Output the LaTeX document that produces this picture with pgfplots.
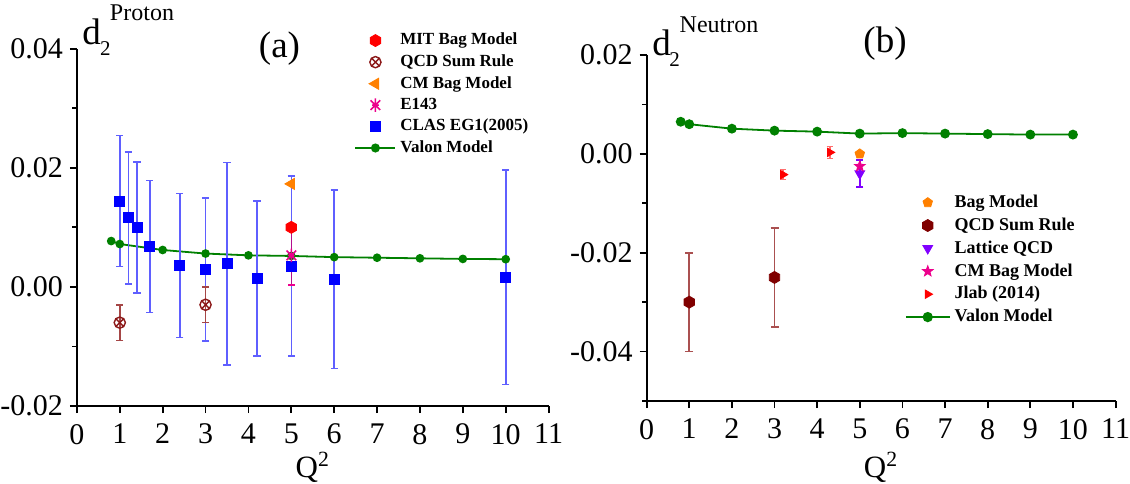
\documentclass[border=0pt]{standalone}
\usepackage{fontspec}
\setmainfont{Liberation Serif}
\usepackage{pgfplots}
\pgfplotsset{compat=1.18}
\usetikzlibrary{plotmarks}

\definecolor{vgreen}{RGB}{0,128,0}
\definecolor{clasbar}{RGB}{95,95,255}
\definecolor{qcdp}{RGB}{140,25,25}
\definecolor{qcdpbar}{RGB}{165,70,70}
\definecolor{cmorange}{RGB}{255,128,0}
\definecolor{maroonq}{RGB}{128,0,0}
\definecolor{maroonbar}{RGB}{170,80,80}
\definecolor{lattice}{RGB}{128,0,255}
\definecolor{jlabbar}{RGB}{255,110,110}

\pgfdeclareplotmark{hexagon*}{%
  \pgfpathmoveto{\pgfqpointpolar{90}{\pgfplotmarksize}}%
  \pgfpathlineto{\pgfqpointpolar{150}{\pgfplotmarksize}}%
  \pgfpathlineto{\pgfqpointpolar{210}{\pgfplotmarksize}}%
  \pgfpathlineto{\pgfqpointpolar{270}{\pgfplotmarksize}}%
  \pgfpathlineto{\pgfqpointpolar{330}{\pgfplotmarksize}}%
  \pgfpathlineto{\pgfqpointpolar{30}{\pgfplotmarksize}}%
  \pgfpathclose\pgfusepathqfillstroke}
\pgfdeclareplotmark{fstar}{%
  \pgfpathmoveto{\pgfqpointpolar{90}{\pgfplotmarksize}}%
  \pgfpathlineto{\pgfqpointpolar{126}{0.42\pgfplotmarksize}}%
  \pgfpathlineto{\pgfqpointpolar{162}{\pgfplotmarksize}}%
  \pgfpathlineto{\pgfqpointpolar{198}{0.42\pgfplotmarksize}}%
  \pgfpathlineto{\pgfqpointpolar{234}{\pgfplotmarksize}}%
  \pgfpathlineto{\pgfqpointpolar{270}{0.42\pgfplotmarksize}}%
  \pgfpathlineto{\pgfqpointpolar{306}{\pgfplotmarksize}}%
  \pgfpathlineto{\pgfqpointpolar{342}{0.42\pgfplotmarksize}}%
  \pgfpathlineto{\pgfqpointpolar{18}{\pgfplotmarksize}}%
  \pgfpathlineto{\pgfqpointpolar{54}{0.42\pgfplotmarksize}}%
  \pgfpathclose\pgfusepathqfillstroke}
\pgfdeclareplotmark{xstar}{%
  \pgfpathmoveto{\pgfqpointpolar{45}{\pgfplotmarksize}}\pgfpathlineto{\pgfqpointpolar{225}{\pgfplotmarksize}}%
  \pgfpathmoveto{\pgfqpointpolar{135}{\pgfplotmarksize}}\pgfpathlineto{\pgfqpointpolar{315}{\pgfplotmarksize}}%
  \pgfpathmoveto{\pgfqpointpolar{90}{\pgfplotmarksize}}\pgfpathlineto{\pgfqpointpolar{270}{\pgfplotmarksize}}%
  \pgfpathmoveto{\pgfqpointpolar{0}{0.5\pgfplotmarksize}}\pgfpathlineto{\pgfqpointpolar{180}{0.5\pgfplotmarksize}}%
  \pgfusepathqstroke}

\pgfplotsset{
  myax/.style={
    scale only axis,
    axis x line*=bottom, axis y line*=left,
    axis line style={line width=0.9pt, black},
    every tick/.style={black, line width=0.9pt},
    tick align=outside,
    major tick length=3.5pt, minor tick length=2.3pt,
    xmin=0, xmax=11, xtick={0,1,...,11},
    scaled y ticks=false,
    /pgf/number format/assume math mode=true,
    ticklabel style={font=\rmfamily\fontsize{15}{16}\selectfont},
    xticklabel style={yshift=-2pt},
    yticklabel style={/pgf/number format/.cd, fixed, fixed zerofill, precision=2},
    xlabel={Q\textsuperscript{2}},
    legend image code/.code={\draw[mark repeat=2,mark phase=2] plot coordinates {(0pt,0pt) (10pt,0pt) (20pt,0pt)};},
    legend cell align=left,
  }
}

\begin{document}
\begin{tikzpicture}
\useasboundingbox (0,0) rectangle (565pt,241.5pt);

% ---------------- (a) Proton ----------------
\begin{axis}[myax,
  at={(38.45pt,38.5pt)}, anchor=south west,
  width=235.85pt, height=178.65pt,
  ymin=-0.02, ymax=0.04,
  ytick={-0.02,0,0.02,0.04}, minor ytick={-0.01,0.01,0.03},
  xlabel style={at={(axis description cs:0.5,0)}, anchor=base, yshift=-35.5pt, font=\fontsize{15.5}{16}\selectfont},
  legend style={at={(0.575,1.067)}, anchor=north west, draw=none, fill=none,
    font=\fontsize{8.5}{9}\selectfont\bfseries, row sep=-0.6pt},
]
% Valon model
\addplot[color=vgreen, line width=0.9pt, mark=*, mark size=1.7pt, forget plot] coordinates {
 (0.8,0.0077) (1,0.0072) (2,0.0062) (3,0.0056) (4,0.0053) (5,0.0052)
 (6,0.0050) (7,0.0049) (8,0.0048) (9,0.0047) (10,0.00465)};
% CLAS EG1(2005)
\addplot[only marks, mark=square*, color=blue, mark size=2.5pt, forget plot,
  error bars/.cd, y dir=both, y explicit,
  error bar style={color=clasbar, line width=0.8pt},
  error mark options={rotate=90, mark size=1.8pt, color=clasbar, line width=0.8pt}]
 coordinates {
 (1,0.0144) +- (0,0.0110)
 (1.2,0.0116) +- (0,0.0111)
 (1.4,0.0100) +- (0,0.0110)
 (1.7,0.0068) +- (0,0.0111)
 (2.4,0.0036) +- (0,0.0121)
 (3,0.0029) +- (0,0.0120)
 (3.5,0.0039) +- (0,0.0170)
 (4.2,0.0014) +- (0,0.0130)
 (5,0.0035) +- (0,0.0151)
 (6,0.0013) +- (0,0.0150)
 (10,0.0016) +- (0,0.0180)};
% QCD Sum Rule
\addplot[only marks, mark=otimes, color=qcdp, mark size=2.8pt, line width=0.7pt, forget plot,
  error bars/.cd, y dir=both, y explicit,
  error bar style={color=qcdpbar, line width=0.8pt},
  error mark options={rotate=90, mark size=1.8pt, color=qcdpbar, line width=0.8pt}]
 coordinates {(1,-0.0060) +- (0,0.0030) (3,-0.0030) +- (0,0.0030)};
% E143
\addplot[only marks, mark=xstar, color=magenta, mark size=3.4pt, line width=0.8pt, forget plot,
  error bars/.cd, y dir=both, y explicit,
  error bar style={color=magenta!70!blue, line width=0.8pt},
  error mark options={rotate=90, mark size=1.8pt, color=magenta, line width=0.8pt}]
 coordinates {(5,0.0053) +- (0,0.0050)};
% MIT Bag model
\addplot[only marks, mark=hexagon*, color=red, mark size=3pt, forget plot] coordinates {(5,0.0100)};
% CM Bag model
\addplot[only marks, mark=triangle*, mark options={rotate=90}, color=cmorange, mark size=3.2pt, forget plot] coordinates {(5,0.0173)};

\addlegendimage{only marks, mark=hexagon*, color=red, mark size=3pt}
\addlegendentry{MIT Bag Model}
\addlegendimage{only marks, mark=otimes, color=qcdp, mark size=2.8pt, line width=0.7pt}
\addlegendentry{QCD Sum Rule}
\addlegendimage{only marks, mark=triangle*, mark options={rotate=90}, color=cmorange, mark size=3.2pt}
\addlegendentry{CM Bag Model}
\addlegendimage{only marks, mark=xstar, color=magenta, mark size=3.4pt, line width=0.8pt}
\addlegendentry{E143}
\addlegendimage{only marks, mark=square*, color=blue, mark size=2.5pt}
\addlegendentry{CLAS EG1(2005)}
\addlegendimage{color=vgreen, line width=0.9pt, mark=*, mark size=1.8pt}
\addlegendentry{Valon Model}
\end{axis}

% ---------------- (b) Neutron ----------------
\begin{axis}[myax,
  at={(323.3pt,41pt)}, anchor=south west,
  width=234.5pt, height=173pt,
  ymin=-0.05, ymax=0.02,
  ytick={-0.04,-0.02,0,0.02}, minor ytick={-0.05,-0.03,-0.01,0.01},
  xlabel style={at={(axis description cs:0.5,0)}, anchor=base, yshift=-38pt, font=\fontsize{15.5}{16}\selectfont},
  legend style={at={(0.537,0.62)}, anchor=north west, draw=none, fill=none,
    font=\fontsize{9}{10}\selectfont\bfseries, row sep=-0.3pt},
  legend image code/.code={\draw[mark repeat=2,mark phase=2] plot coordinates {(0pt,0pt) (11pt,0pt) (22pt,0pt)};},
]
\addplot[color=vgreen, line width=0.9pt, mark=*, mark size=2pt, forget plot] coordinates {
 (0.8,0.0065) (1,0.0060) (2,0.0051) (3,0.0047) (4,0.0045) (5,0.0041)
 (6,0.0042) (7,0.0041) (8,0.0040) (9,0.0039) (10,0.0039)};
% QCD Sum Rule
\addplot[only marks, mark=hexagon*, color=maroonq, mark size=3pt, forget plot,
  error bars/.cd, y dir=both, y explicit,
  error bar style={color=maroonbar, line width=0.8pt},
  error mark options={rotate=90, mark size=2pt, color=maroonbar, line width=0.8pt}]
 coordinates {(1,-0.030) +- (0,0.010) (3,-0.025) +- (0,0.010)};
% Lattice QCD
\addplot[only marks, mark=triangle*, mark options={rotate=180}, color=lattice, mark size=2.8pt, forget plot,
  error bars/.cd, y dir=both, y explicit,
  error bar style={color=lattice, line width=0.8pt},
  error mark options={rotate=90, mark size=1.8pt, color=lattice, line width=0.8pt}]
 coordinates {(5,-0.0040) +- (0,0.0027)};
% CM Bag Model
\addplot[only marks, mark=fstar, color=magenta, mark size=2.8pt, forget plot] coordinates {(5,-0.0025)};
% Bag Model
\addplot[only marks, mark=pentagon*, color=cmorange, mark size=2.5pt, forget plot] coordinates {(5,0.0000)};
% Jlab (2014)
\addplot[only marks, mark=triangle*, mark options={rotate=-90}, color=red, mark size=2.4pt, forget plot,
  error bars/.cd, y dir=both, y explicit,
  error bar style={color=jlabbar, line width=0.8pt},
  error mark options={rotate=90, mark size=1.6pt, color=jlabbar, line width=0.8pt}]
 coordinates {(3.2,-0.0042) +- (0,0.0010) (4.3,0.0003) +- (0,0.0012)};

\addlegendimage{only marks, mark=pentagon*, color=cmorange, mark size=2.5pt}
\addlegendentry{Bag Model}
\addlegendimage{only marks, mark=hexagon*, color=maroonq, mark size=3pt}
\addlegendentry{QCD Sum Rule}
\addlegendimage{only marks, mark=triangle*, mark options={rotate=180}, color=lattice, mark size=2.8pt}
\addlegendentry{Lattice QCD}
\addlegendimage{only marks, mark=fstar, color=magenta, mark size=2.8pt}
\addlegendentry{CM Bag Model}
\addlegendimage{only marks, mark=triangle*, mark options={rotate=-90}, color=red, mark size=2.4pt}
\addlegendentry{Jlab (2014)}
\addlegendimage{color=vgreen, line width=0.9pt, mark=*, mark size=2.1pt}
\addlegendentry{Valon Model}
\end{axis}

% titles and axis names
\node[font=\fontsize{18.5}{20}\selectfont] at (139.75pt,217pt) {(a)};
\node[font=\fontsize{18.5}{20}\selectfont] at (442.5pt,219.5pt) {(b)};
\node[font=\fontsize{18.5}{20}\selectfont] at (45.85pt,225.5pt) {d};
\node[font=\fontsize{10.5}{11}\selectfont] at (52.65pt,217pt) {2};
\node[font=\fontsize{12}{13}\selectfont] at (71pt,235pt) {Proton};
\node[font=\fontsize{18.5}{20}\selectfont] at (330.85pt,220pt) {d};
\node[font=\fontsize{10.5}{11}\selectfont] at (337.25pt,211.5pt) {2};
\node[font=\fontsize{12}{13}\selectfont] at (359.5pt,229pt) {Neutron};
\end{tikzpicture}
\end{document}
